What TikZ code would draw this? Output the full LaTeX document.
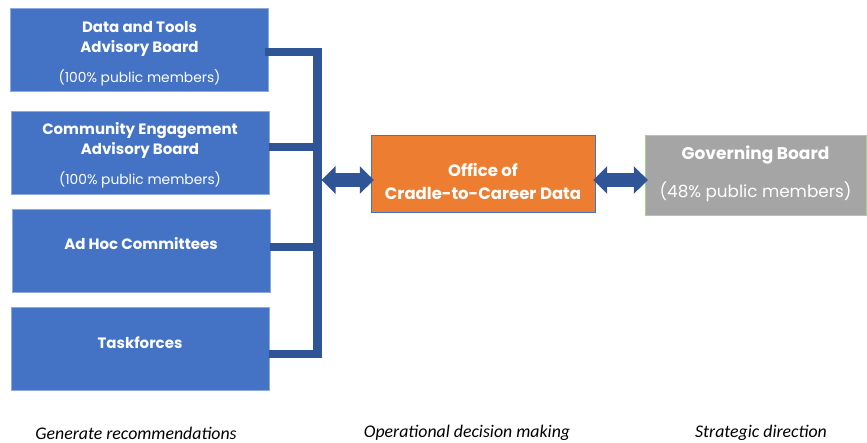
\documentclass[tikz,border=0pt]{standalone}
\usepackage{fontspec}
\setmainfont{Poppins}
\newfontfamily\notefont{Carlito}
\usetikzlibrary{arrows.meta}

\definecolor{boxblue}{HTML}{4472C4}
\definecolor{boxedge}{HTML}{8EA9DB}
\definecolor{busblue}{HTML}{2F5597}
\definecolor{officeorange}{HTML}{ED7D31}
\definecolor{boardgray}{HTML}{A5A5A5}
\definecolor{boardedge}{HTML}{A9D18E}

\tikzset{
  bluebox/.style={draw=boxedge, fill=boxblue, minimum width=258pt, minimum height=83pt, inner sep=0pt},
  officebox/.style={draw=boxblue, fill=officeorange, minimum width=224pt, minimum height=77pt, inner sep=0pt},
  boardbox/.style={draw=boardedge, fill=boardgray, minimum width=221pt, minimum height=80pt, inner sep=0pt},
  boxtitle/.style={text=white, font=\fontsize{15}{20}\selectfont\bfseries, align=center, inner sep=0pt},
  boxnote/.style={text=white, font=\fontsize{13.8}{16}\selectfont, inner sep=0pt},
  bus/.style={draw=busblue, line width=8.5pt, miter limit=10},
  bigarrow/.style={busblue, line width=14pt, {Triangle[width=27pt,length=14pt]}-{Triangle[width=27pt,length=14pt]}},
  caption/.style={font=\notefont\itshape\fontsize{17.8}{20}\selectfont, inner sep=0pt}
}

\begin{document}
\begin{tikzpicture}[x=1pt,y=-1pt]
\useasboundingbox (0,0) rectangle (867,442);

% advisory side
\node[bluebox] (dtab) at (139.5,50) {};
\node[boxtitle] (dtab-t) at (139.5,38.5) {Data and Tools\\Advisory Board};
\node[boxnote] (dtab-n) at (139.5,78) {(100\% public members)};

\node[bluebox] (ceab) at (140,152.5) {};
\node[boxtitle] (ceab-t) at (140,140.5) {Community Engagement\\Advisory Board};
\node[boxnote] (ceab-n) at (140,180) {(100\% public members)};

\node[bluebox] (adhoc) at (141,251) {};
\node[boxtitle] (adhoc-t) at (141,244) {Ad Hoc Committees};

\node[bluebox] (task) at (140,348.5) {};
\node[boxtitle] (task-t) at (140,343) {Taskforces};

% office and board
\node[officebox] (office) at (483,173.5) {};
\node[boxtitle, font=\fontsize{16.5}{23}\selectfont\bfseries] (office-t) at (483,181) {Office of\\Cradle-to-Career Data};

\node[boardbox] (board) at (755.5,175) {};
\node[boxtitle, font=\fontsize{17}{20}\selectfont\bfseries] (board-t) at (755.5,155) {Governing Board};
\node[boxnote, font=\fontsize{16.8}{20}\selectfont] (board-n) at (755.5,192) {(48\% public members)};

% bracket
\coordinate (bus-top) at (317.5,52);
\coordinate (bus-bot) at (317.5,354);
\coordinate (bus-mid) at (321.5,180);
\draw[bus] ([xshift=-4pt]dtab.east |- bus-top) -- (bus-top) -- (bus-bot) -- (task.east |- bus-bot);
\draw[bus] (ceab.east |- 0,147) -- (bus-top |- 0,147);
\draw[bus] (adhoc.east |- 0,247) -- (bus-top |- 0,247);

\draw[bigarrow] (bus-mid) -- ([xshift=3pt]bus-mid -| office.west);
\draw[bigarrow] ([xshift=-2pt]bus-mid -| office.east) -- ([xshift=3pt]bus-mid -| board.west);

% captions
\node[caption] (gen) at (136,433) {Generate recommendations};
\node[caption] (oper) at (467,433) {Operational decision making};
\node[caption] (strat) at (761,433) {Strategic direction};
\end{tikzpicture}
\end{document}
